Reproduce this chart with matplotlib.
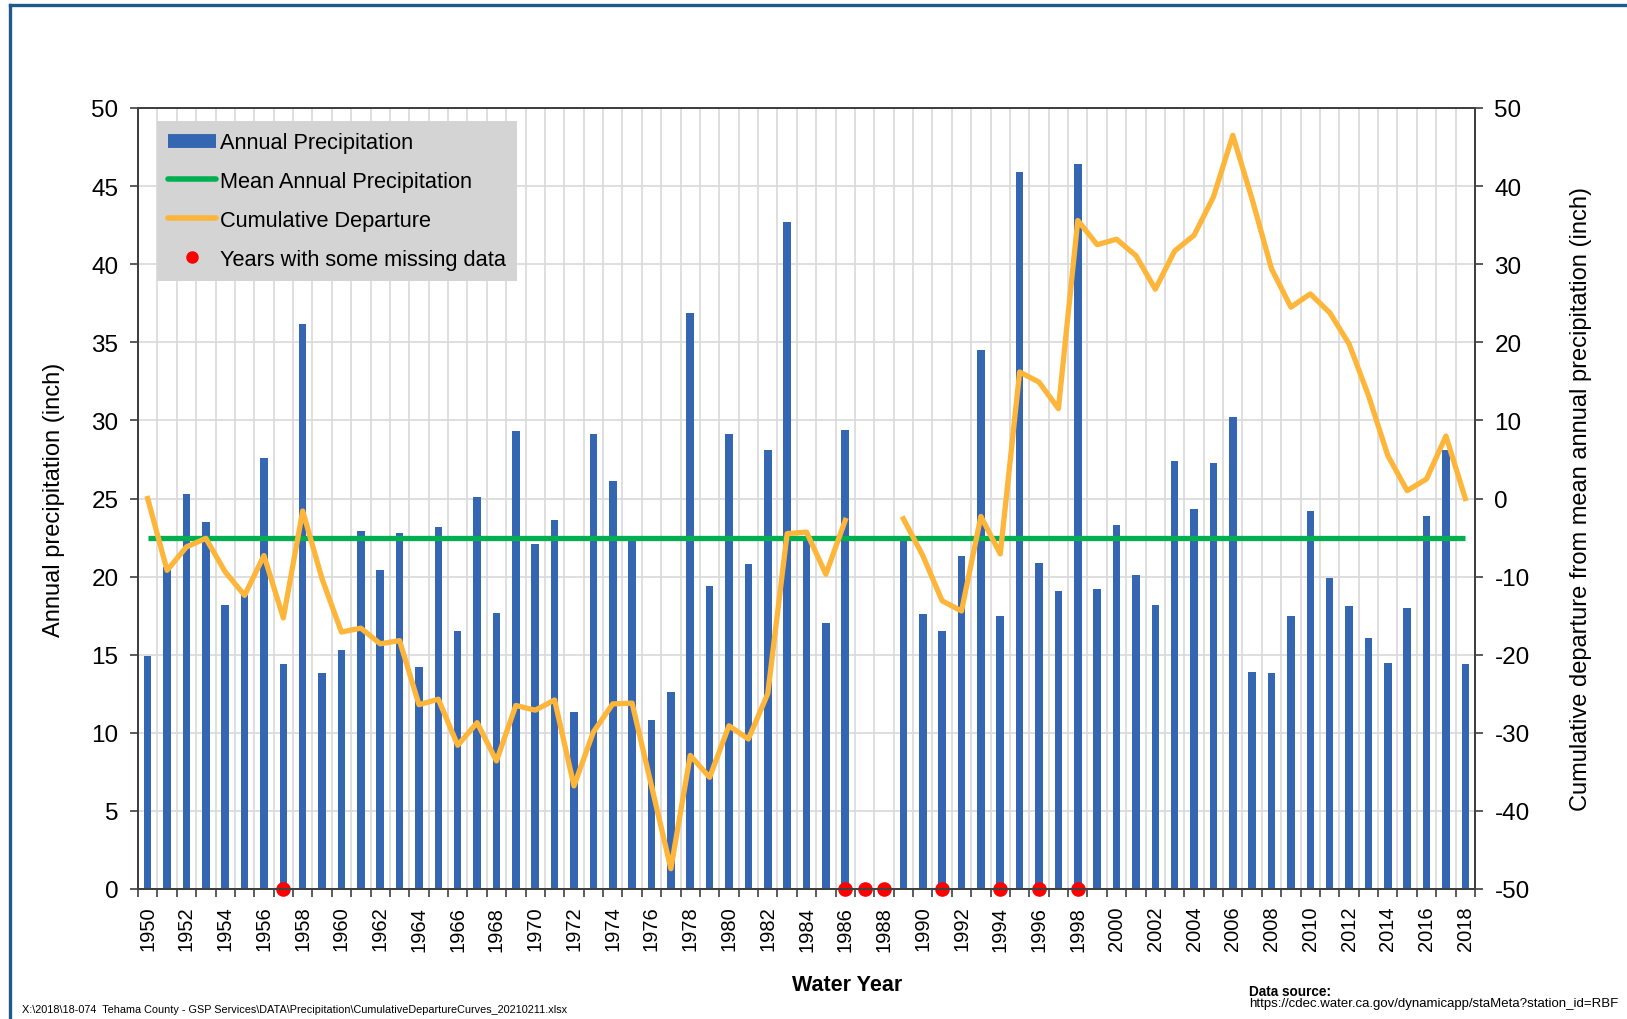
import numpy as np
import matplotlib
matplotlib.use('Agg')
import matplotlib.pyplot as plt
from matplotlib.lines import Line2D

plt.rcParams['font.family'] = ['Liberation Sans', 'DejaVu Sans']
plt.rcParams['axes.unicode_minus'] = False

# Water years 1950-2018
years = list(range(1950, 2019))

# Annual precipitation (inch); 1987 and 1988 have no record
annual_precip = [
    14.9, 20.6, 25.3, 23.5, 18.2, 18.8, 27.6, 14.4, 36.2, 13.8,
    15.3, 22.9, 20.4, 22.8, 14.2, 23.2, 16.5, 25.1, 17.7, 29.3,
    22.1, 23.6, 11.3, 29.1, 26.1, 22.3, 10.8, 12.6, 36.9, 19.4,
    29.1, 20.8, 28.1, 42.7, 22.6, 17.0, 29.4, np.nan, np.nan, 22.4,
    17.6, 16.5, 21.3, 34.5, 17.5, 45.9, 20.9, 19.1, 46.4, 19.2,
    23.3, 20.1, 18.2, 27.4, 24.3, 27.3, 30.2, 13.9, 13.8, 17.5,
    24.2, 19.9, 18.1, 16.1, 14.5, 18.0, 23.9, 28.1, 14.4,
]

mean_precip = 22.45

# Cumulative departure from the mean (inch)
cum_departure = [
    0.0, -9.2, -6.2, -5.1, -9.4, -12.4, -7.3, -15.3, -1.6, -10.3,
    -17.1, -16.6, -18.6, -18.2, -26.4, -25.7, -31.6, -28.7, -33.6, -26.5,
    -27.1, -25.8, -36.8, -29.9, -26.3, -26.2, -36.8, -47.4, -32.9, -35.7,
    -29.1, -30.8, -25.0, -4.5, -4.3, -9.7, -2.8, np.nan, np.nan, -2.6,
    -7.3, -13.1, -14.4, -2.3, -7.1, 16.2, 14.9, 11.5, 35.6, 32.5,
    33.2, 31.1, 26.8, 31.7, 33.7, 38.6, 46.5, 38.3, 29.4, 24.5,
    26.2, 23.8, 19.8, 13.2, 5.5, 1.0, 2.5, 8.0, 0.0,
]

missing_years = [1957, 1986, 1987, 1988, 1991, 1994, 1996, 1998]

BLUE = '#3566b2'
GREEN = '#00b050'
ORANGE = '#fdb53a'
RED = '#ff0000'
GRID = '#d9d9d9'
SPINE = '#404040'

W, H = 1627, 1020
fig = plt.figure(figsize=(W / 100, H / 100), dpi=100)
fig.subplots_adjust(left=138 / W, right=1475 / W, bottom=1 - 890 / H, top=1 - 109 / H)
ax = fig.add_subplot(111)

x = np.arange(len(years))

# annual bars and mean line on the left axis
ax.bar(x, annual_precip, width=0.39, color=BLUE, zorder=2)
ax.plot(x, [mean_precip] * len(x), color=GREEN, lw=3.8, solid_capstyle='butt', zorder=3)
miss_idx = [years.index(yr) for yr in missing_years]
ax.plot(miss_idx, [0] * len(miss_idx), 'o', color=RED, ms=9.5, clip_on=False, zorder=5)

ax.set_xlim(-0.5, len(years) - 0.5)
ax.set_ylim(0, 50)
ax.set_yticks(range(0, 51, 5))
ax.set_axisbelow(True)

# year labels on even years, tick marks and grid at category edges
even = [i for i, yr in enumerate(years) if yr % 2 == 0]
ax.set_xticks(even)
ax.set_xticklabels([str(years[i]) for i in even], rotation=90, fontsize=14.5)
ax.set_xticks(np.arange(-0.5, len(years), 1.0), minor=True)
ax.tick_params(axis='x', which='major', length=0, pad=12)
ax.tick_params(axis='x', which='minor', length=6, width=1.2, color=SPINE, direction='out')
ax.tick_params(axis='y', labelsize=17.5, length=6, width=1.2, color=SPINE, pad=8)
ax.grid(which='minor', axis='x', color=GRID, lw=1.2)
ax.grid(which='major', axis='y', color=GRID, lw=1.2)

for s in ax.spines.values():
    s.set_color(SPINE)
    s.set_linewidth(1.4)

ax.set_ylabel('Annual precipitation (inch)', fontsize=17, labelpad=19)

# cumulative departure on the right axis
ax2 = ax.twinx()
ax2.plot(x, cum_departure, color=ORANGE, lw=3.8, solid_joinstyle='round', zorder=4)
ax2.set_ylim(-50, 50)
ax2.set_yticks(range(-50, 51, 10))
ax2.tick_params(axis='y', labelsize=17.5, length=6, width=1.2, color=SPINE, pad=8)
for s in ax2.spines.values():
    s.set_color(SPINE)
    s.set_linewidth(1.4)
ax2.set_ylabel('Cumulative departure from mean annual precipitation (inch)',
               fontsize=17, labelpad=29)

handles = [
    Line2D([0], [0], color=BLUE, lw=10, solid_capstyle='butt'),
    Line2D([0], [0], color=GREEN, lw=4, solid_capstyle='round'),
    Line2D([0], [0], color=ORANGE, lw=4, solid_capstyle='round'),
    Line2D([0], [0], marker='o', color=RED, lw=0, ms=8),
]
labels = ['Annual Precipitation', 'Mean Annual Precipitation',
          'Cumulative Departure', 'Years with some missing data']
leg = ax2.legend(handles, labels, loc='upper left', bbox_to_anchor=(0.014, 0.983),
                 borderaxespad=0, fontsize=15.7, frameon=True, fancybox=False,
                 facecolor='#d4d4d4', edgecolor='none', framealpha=1,
                 handlelength=2.2, handletextpad=0.2, labelspacing=0.82,
                 borderpad=0.5)
leg.set_zorder(10)

fig.text(847 / W, 1 - 986 / H, 'Water Year', fontsize=15.5, fontweight='bold',
         ha='center', va='center')

narrow = ['Liberation Sans Narrow', 'Liberation Sans']
fig.text(22 / W, 1 - 1010 / H,
         r'X:\2018\18-074  Tehama County - GSP Services\DATA\Precipitation\CumulativeDepartureCurves_20210211.xlsx',
         fontsize=7.8, family=narrow, ha='left', va='center')
fig.text(1249 / W, 1 - 992 / H, 'Data source:', fontsize=9.8, fontweight='bold',
         family=narrow, ha='left', va='center')
fig.text(1249 / W, 1 - 1004 / H,
         'https://cdec.water.ca.gov/dynamicapp/staMeta?station_id=RBF',
         fontsize=9.5, family=narrow, ha='left', va='center')

# page frame lines
BORDER = '#1f5a8c'
fig.add_artist(Line2D([10 / W, 10 / W], [0, 1 - 6 / H], color=BORDER, lw=2.4,
                      transform=fig.transFigure))
fig.add_artist(Line2D([10 / W, 1], [1 - 6 / H, 1 - 6 / H], color=BORDER, lw=2.4,
                      transform=fig.transFigure))

fig.savefig('out.png', dpi=100)
